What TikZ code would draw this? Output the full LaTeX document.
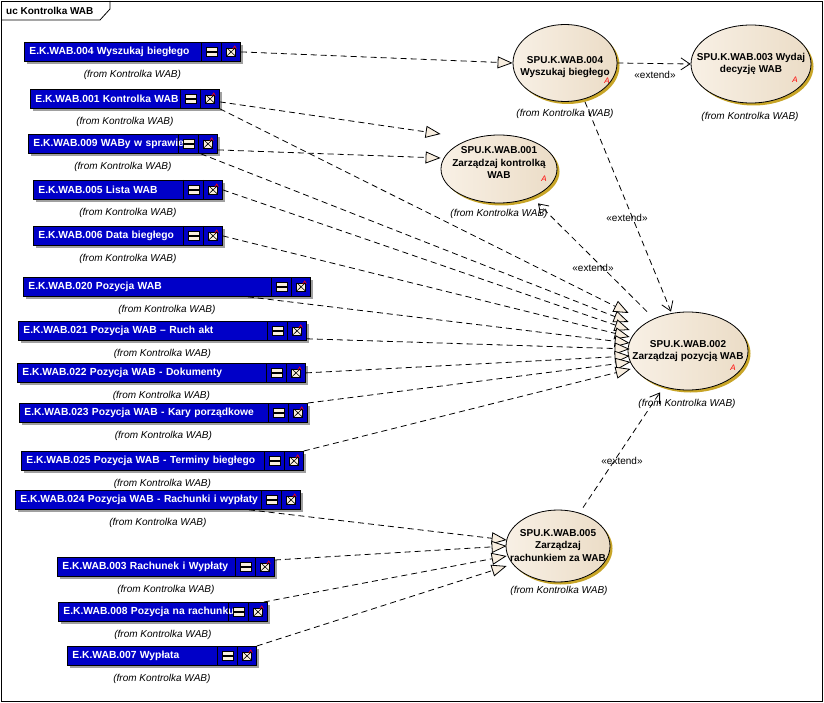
\documentclass[tikz,border=0pt]{standalone}
\usepackage{fontspec}
\setmainfont{Liberation Sans}
\usetikzlibrary{arrows.meta,calc,shadows,shapes.geometric}

\definecolor{wabblue}{RGB}{0,0,200}
\definecolor{boxshadow}{RGB}{160,160,160}
\definecolor{iconfill}{RGB}{250,240,222}
\definecolor{ucleft}{RGB}{248,240,229}
\definecolor{ucright}{RGB}{235,220,198}
\definecolor{ucshadow}{RGB}{200,165,40}
\definecolor{trifill}{RGB}{248,238,224}

\tikzset{
 ebox/.style={draw=black, line width=0.8pt, fill=wabblue, text=white,
   font=\bfseries\fontsize{10.3}{12}\selectfont, minimum height=19pt,
   inner xsep=5pt, inner ysep=0pt, anchor=north west,
   drop shadow={shadow xshift=3pt, shadow yshift=-3pt, fill=boxshadow, opacity=1}},
 ucase/.style={ellipse, draw=black, line width=0.8pt, left color=ucleft, right color=ucright,
   font=\bfseries\fontsize{10}{12.5}\selectfont, inner sep=0pt,
   drop shadow={shadow xshift=2.5pt, shadow yshift=-2.5pt, fill=ucshadow, opacity=1}},
 fromlbl/.style={font=\itshape\fontsize{10}{12}\selectfont, inner sep=0pt},
 realize/.style={dash pattern=on 6pt off 4pt, line width=0.8pt,
   -{Triangle[length=15pt,width=12pt,fill=trifill,line width=0.8pt]}},
 extend/.style={dash pattern=on 6pt off 4pt, line width=0.8pt,
   -{Straight Barb[length=9pt,width=12pt,line width=0.8pt]}},
 extlbl/.style={font=\fontsize{10}{12}\selectfont, inner sep=0pt},
 redA/.style={text=red, font=\itshape\fontsize{8}{8}\selectfont, inner sep=0pt},
 iconln/.style={line width=0.7pt, draw=black},
}

% text of a use case, centred; optional argument moves it up (positive) or down
\newcommand\uctxt[2][0pt]{\makebox[0pt]{\raisebox{\dimexpr#1-2.5pt\relax}[0pt][0pt]{\begin{tabular}{@{}c@{}}#2\end{tabular}}}}

\newcommand\wabbox[5]{%
 \pgfmathsetmacro\wabw{#4-#2}%
 \pgfmathsetmacro\wabtw{#4-#2-10}%
 \node[ebox, minimum width=\wabw pt, text width=\wabtw pt] (#1) at (#2,#3) {\mbox{#5}};
 \draw[iconln] ([xshift=-39pt]#1.north east) -- ([xshift=-39pt]#1.south east)
   ([xshift=-19pt]#1.north east) -- ([xshift=-19pt]#1.south east);
 \draw[iconln, fill=iconfill] ([shift={(-34.5pt,-4.5pt)}]#1.east) rectangle ([shift={(-23.5pt,4.5pt)}]#1.east);
 \draw[line width=1.3pt] ([shift={(-34.5pt,0pt)}]#1.east) -- ([shift={(-23.5pt,0pt)}]#1.east);
 \draw[iconln, fill=iconfill] ([shift={(-14pt,-4pt)}]#1.east) rectangle ([shift={(-5.5pt,4pt)}]#1.east);
 \draw[line width=0.6pt] ([shift={(-14pt,-4pt)}]#1.east) -- ([shift={(-5.5pt,4pt)}]#1.east)
   ([shift={(-14pt,4pt)}]#1.east) -- ([shift={(-5.5pt,-4pt)}]#1.east);
 \draw[red, line width=0.6pt] ([shift={(-8pt,3pt)}]#1.east) -- ([shift={(-6pt,6pt)}]#1.east) -- ([shift={(-4.5pt,3pt)}]#1.east);
 \node[fromlbl] (#1f) at ([yshift=-13pt]#1.south) {(from Kontrolka WAB)};
}

\begin{document}
\begin{tikzpicture}[x=1pt, y=-1pt]
\fill[white] (0,0) rectangle (824,703);
\useasboundingbox (0,0) rectangle (824,703);

% frame
\draw[line width=0.8pt] (1,1) rectangle (822,701);
\draw[line width=0.8pt] (1,20) -- (100,20) -- (110,9) -- (110,1);
\node[anchor=west, font=\bfseries\fontsize{10}{12}\selectfont, inner sep=0pt] (title) at (6,11) {uc Kontrolka WAB};

% element boxes
\wabbox{b004}{24}{42}{240}{E.K.WAB.004 Wyszukaj biegłego}
\wabbox{b001}{30}{89}{219}{E.K.WAB.001 Kontrolka WAB}
\wabbox{b009}{28}{134}{217}{E.K.WAB.009 WABy w sprawie}
\wabbox{b005}{33}{180}{222}{E.K.WAB.005 Lista WAB}
\wabbox{b006}{33}{226}{222}{E.K.WAB.006 Data biegłego}
\wabbox{b020}{23}{277}{310}{E.K.WAB.020 Pozycja WAB}
\wabbox{b021}{18}{321}{306}{E.K.WAB.021 Pozycja WAB – Ruch akt}
\wabbox{b022}{17}{363}{305}{E.K.WAB.022 Pozycja WAB - Dokumenty}
\wabbox{b023}{19}{403}{307}{E.K.WAB.023 Pozycja WAB - Kary porządkowe}
\wabbox{b025}{21}{451}{303}{E.K.WAB.025 Pozycja WAB - Terminy biegłego}
\wabbox{b024}{15}{490}{300}{E.K.WAB.024 Pozycja WAB - Rachunki i wypłaty}
\wabbox{b003}{57}{557}{274}{E.K.WAB.003 Rachunek i Wypłaty}
\wabbox{b008}{58}{602}{267}{E.K.WAB.008 Pozycja na rachunku}
\wabbox{b007}{67}{646}{256}{E.K.WAB.007 Wypłata}

% use cases
\node[ucase, minimum width=104pt, minimum height=77pt] (A) at (565,63) {\uctxt[-4pt]{SPU.K.WAB.004\\Wyszukaj biegłego}};
\node[ucase, minimum width=120pt, minimum height=78pt] (B) at (751,64) {\uctxt{SPU.K.WAB.003 Wydaj\\decyzję WAB}};
\node[ucase, minimum width=116pt, minimum height=68pt] (C) at (499,169) {\uctxt[5pt]{SPU.K.WAB.001\\Zarządzaj kontrolką\\WAB}};
\node[ucase, minimum width=120pt, minimum height=78pt] (D) at (688,351) {\uctxt{SPU.K.WAB.002\\Zarządzaj pozycją WAB}};
\node[ucase, minimum width=104pt, minimum height=72pt] (E) at (558,546) {\uctxt{SPU.K.WAB.005\\Zarządzaj\\rachunkiem za WAB}};

\node[redA] (Aa) at (607,81) {A};
\node[redA] (Ba) at (795,80) {A};
\node[redA] (Ca) at (544,179) {A};
\node[redA] (Da) at (733,368) {A};

\node[fromlbl] (Af) at (565,114) {(from Kontrolka WAB)};
\node[fromlbl] (Bf) at (750,117) {(from Kontrolka WAB)};
\node[fromlbl] (Cf) at (499,214) {(from Kontrolka WAB)};
\node[fromlbl] (Df) at (687,404) {(from Kontrolka WAB)};
\node[fromlbl] (Ef) at (559,591) {(from Kontrolka WAB)};

% realizations
\draw[realize] (b004.east) -- (A.west);
\draw[realize] ([yshift=-3pt]b001.east) -- ($(C.west)+(0,-35)$);
\draw[realize] ([yshift=-6pt]b009.east) -- ($(C.west)+(0,-11)$);
\draw[realize] (b001.south east) -- ($(D.west)+(1,-38)$);
\draw[realize] ([xshift=-17pt]b009.south east) -- ($(D.west)+(1,-29)$);
\draw[realize] (b005.east) -- ($(D.west)+(2,-21)$);
\draw[realize] (b006.east) -- ($(D.west)+(2,-14)$);
\draw[realize] ([xshift=-63pt]b020.south east) -- ($(D.west)+(2,-8)$);
\draw[realize] ([yshift=2pt]b021.south east) -- ($(D.west)+(2,-2)$);
\draw[realize] (b022.east) -- ($(D.west)+(2,5)$);
\draw[realize] (b023.north east) -- ($(D.west)+(3,11)$);
\draw[realize] (b025.north east) -- ($(D.west)+(3,18)$);
\draw[realize] ([xshift=-52pt]b024.south east) -- ($(E.west)+(1,-6)$);
\draw[realize] ([yshift=-3pt]b003.north east) -- ($(E.west)+(1,0)$);
\draw[realize] ([xshift=-4pt]b008.north east) -- ($(E.west)+(1,10)$);
\draw[realize] (b007.north east) -- ($(E.west)+(1,20)$);

% extends
\draw[extend] (A.east) -- (B.west);
\draw[extend] ($(A.south)+(20,0)$) -- ($(D.north)+(-17,0)$);
\draw[extend] ($(D.north)+(-41,0)$) -- ($(C.south)+(39,0)$);
\draw[extend] ($(E.north)+(25,-2)$) -- ($(D.south)+(-28,2)$);

\node[extlbl] (x1) at (655,75) {«extend»};
\node[extlbl] (x2) at (627,218) {«extend»};
\node[extlbl] (x3) at (593,268) {«extend»};
\node[extlbl] (x4) at (622,461) {«extend»};
\end{tikzpicture}
\end{document}
